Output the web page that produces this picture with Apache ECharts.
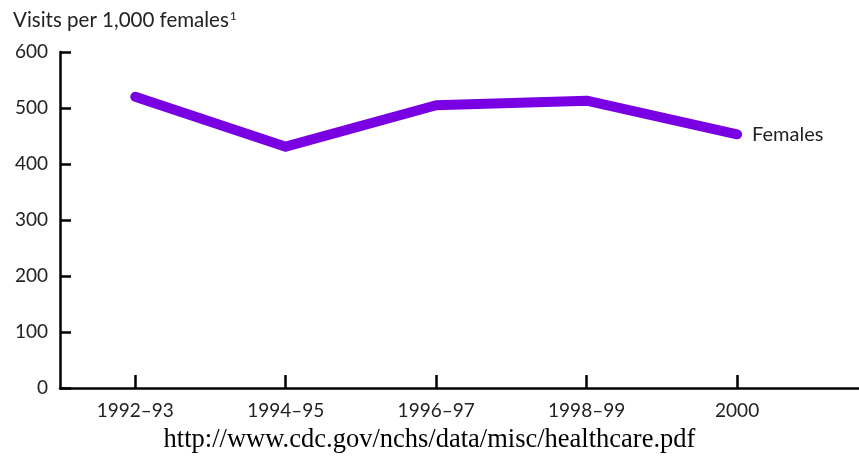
<!DOCTYPE html>
<html><head><meta charset="utf-8">
<script src="https://cdn.jsdelivr.net/npm/echarts@6/dist/echarts.min.js"></script>
<style>html,body{margin:0;padding:0;background:#fff}#c{width:859px;height:457px}</style>
</head><body><div id="c"></div>
<script>
var categories = ['1992\u201393', '1994\u201395', '1996\u201397', '1998\u201399', '2000'];
var femaleVisits = [520, 431, 505, 513, 453];
var yTicks = [0, 100, 200, 300, 400, 500, 600];
var seriesName = 'Females';
var yTitle = 'Visits per 1,000 females';
var sourceText = 'http://www.cdc.gov/nchs/data/misc/healthcare.pdf';

var idx = categories.map(function (c, i) { return i; });
var data = femaleVisits.map(function (v, i) { return [i, v]; });
var font = 'Lato, "Open Sans", sans-serif';

var chart = echarts.init(document.getElementById('c'), null, { renderer: 'canvas' });
chart.setOption({
  animation: false,
  backgroundColor: '#fff',
  grid: { left: 60, right: 0, top: 52, bottom: 69, containLabel: false },
  title: [{
    text: '{a|' + yTitle + '}{s|1}',
    left: 8, top: 5,
    textStyle: { rich: {
      a: { fontFamily: font, fontSize: 20.5, fontWeight: 'normal', color: '#222' },
      s: { fontFamily: font, fontSize: 12, fontWeight: 'normal', color: '#222', verticalAlign: 'top', padding: [0, 0, 8, 1] }
    } }
  }, {
    text: sourceText, left: 'center', top: 422,
    textStyle: { fontFamily: '"Liberation Serif", serif', fontSize: 26.5, fontWeight: 'normal', color: '#000' }
  }],
  xAxis: {
    type: 'value', min: -0.5, max: 4.81,
    splitLine: { show: false },
    axisLine: { show: true, onZero: false, lineStyle: { color: '#000', width: 2.5 } },
    axisTick: { show: true, inside: true, length: 13, customValues: idx, lineStyle: { color: '#000', width: 2.5 } },
    axisLabel: { customValues: idx, margin: 13, fontFamily: font, fontSize: 19, color: '#222',
      formatter: function (v) { return categories[Math.round(v)]; } }
  },
  yAxis: {
    type: 'value', min: 0, max: 600, interval: 100,
    splitLine: { show: false },
    axisLine: { show: true, onZero: false, lineStyle: { color: '#000', width: 2.5 } },
    axisTick: { show: true, inside: true, length: 11, lineStyle: { color: '#000', width: 2.5 } },
    axisLabel: { margin: 12, fontFamily: font, fontSize: 19, color: '#222',
      formatter: function (v) { return yTicks.indexOf(v) >= 0 ? String(v) : ''; } }
  },
  series: [{
    name: seriesName, type: 'line', data: data,
    showSymbol: false, symbol: 'none',
    lineStyle: { color: '#7a00e4', width: 10, cap: 'round', join: 'round' },
    endLabel: { show: true, formatter: seriesName, distance: 15,
      fontFamily: font, fontSize: 20, color: '#222' }
  }]
});
</script>
</body></html>
